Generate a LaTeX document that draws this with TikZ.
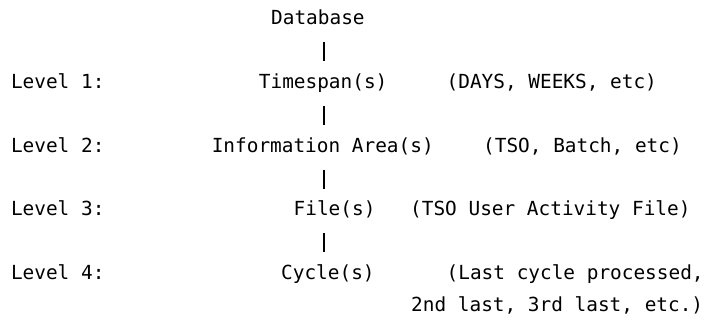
\documentclass[tikz,border=0pt]{standalone}
\usepackage{fontspec}
\newfontfamily\monofam{DejaVu Sans Mono}
\begin{document}
\begin{tikzpicture}[x=1pt,y=1pt,
  txt/.style={font=\monofam\fontsize{19.4}{19.4}\selectfont, anchor=base west,
    inner sep=0pt, text height=14.2pt, text depth=4.6pt, text=black},
  barline/.style={line width=1.7pt, draw=black, shorten <=12.6pt, shorten >=12.9pt}]
\useasboundingbox (0,0) rectangle (707,322);
\coordinate (bx) at (324,0);
% hierarchy
\node[txt] (db)   at (271,297)   {Database};
\node[txt] (ts)   at (258.7,233.4) {Timespan(s)};
\node[txt] (ia)   at (211.6,169.8) {Information Area(s)};
\node[txt] (fi)   at (293.5,106.2) {File(s)};
\node[txt] (cy)   at (281,42.6)  {Cycle(s)};
% level labels
\node[txt] (l1) at (10.8,233.4) {Level 1:};
\node[txt] (l2) at (10.8,169.8) {Level 2:};
\node[txt] (l3) at (10.8,106.2) {Level 3:};
\node[txt] (l4) at (10.8,42.6)  {Level 4:};
% notes
\node[txt] (n1)  at (446.5,233.4) {(DAYS, WEEKS, etc)};
\node[txt] (n2)  at (483,169.8)   {(TSO, Batch, etc)};
\node[txt] (n3)  at (410,106.2)   {(TSO User Activity File)};
\node[txt] (n4)  at (446.5,42.6)  {(Last cycle processed,};
\node[txt] (n4b) at (411,10.8)    {2nd last, 3rd last, etc.)};
% connectors
\draw[barline] (db.south -| bx) -- (ts.north -| bx);
\draw[barline] (ts.south -| bx) -- (ia.north -| bx);
\draw[barline] (ia.south -| bx) -- (fi.north -| bx);
\draw[barline] (fi.south -| bx) -- (cy.north -| bx);
\end{tikzpicture}
\end{document}
